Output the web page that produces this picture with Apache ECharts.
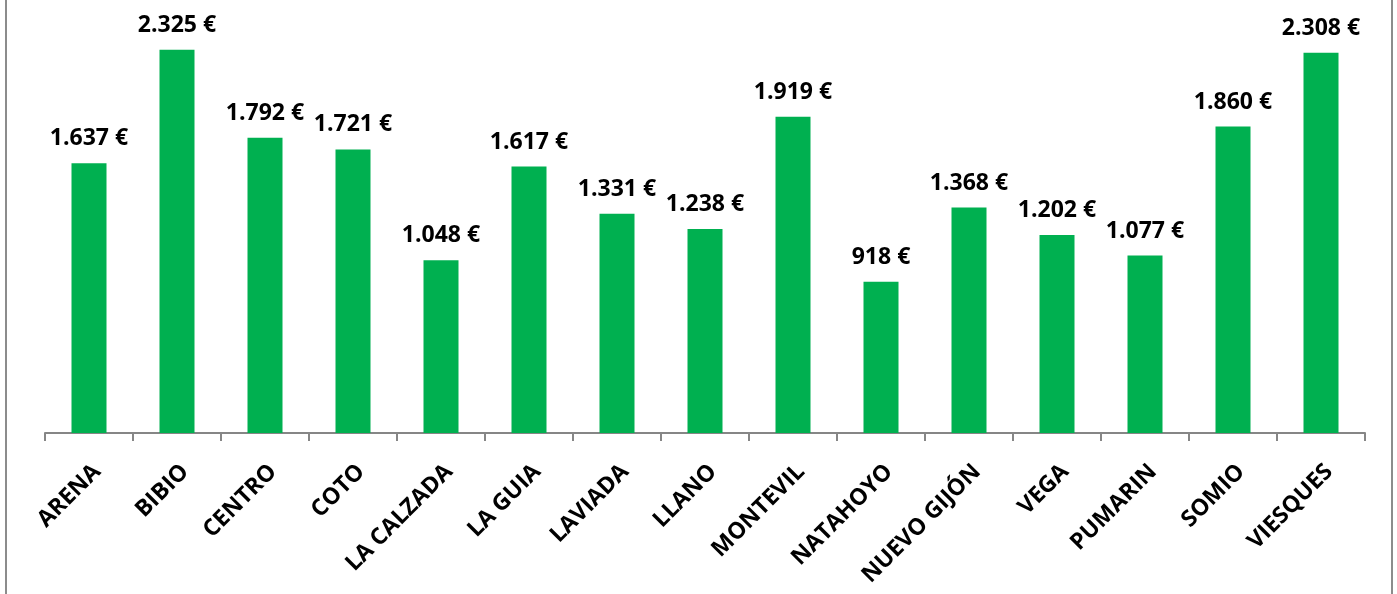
<!DOCTYPE html>
<html>
<head>
<meta charset="utf-8">
<script src="https://cdn.jsdelivr.net/npm/echarts@6/dist/echarts.min.js"></script>
<style>
  html, body { margin: 0; padding: 0; background: #fff; }
  #chart { width: 1397px; height: 594px; }
</style>
</head>
<body>
<div id="chart"></div>
<script>
// barrios de Gijón
const barrios = ['ARENA', 'BIBIO', 'CENTRO', 'COTO', 'LA CALZADA', 'LA GUIA', 'LAVIADA', 'LLANO',
  'MONTEVIL', 'NATAHOYO', 'NUEVO GIJÓN', 'VEGA', 'PUMARIN', 'SOMIO', 'VIESQUES'];
const importes = [1637, 2325, 1792, 1721, 1048, 1617, 1331, 1238, 1919, 918, 1368, 1202, 1077, 1860, 2308];

const FONT = '"Open Sans", "DejaVu Sans", sans-serif';

function euros(v) {
  return String(v).replace(/\B(?=(\d{3})+(?!\d))/g, '.') + ' €';
}

const chart = echarts.init(document.getElementById('chart'));
chart.setOption({
  animation: false,
  backgroundColor: '#fff',
  grid: { left: 45, right: 32, top: 21, bottom: 161 },
  xAxis: {
    type: 'category',
    data: barrios,
    axisLine: { lineStyle: { color: '#868686', width: 2 } },
    axisTick: { show: true, alignWithLabel: false, length: 8, lineStyle: { color: '#868686', width: 2 } },
    axisLabel: {
      rotate: 45,
      margin: 27,
      align: 'right',
      verticalAlign: 'top',
      color: '#000',
      fontFamily: FONT,
      fontWeight: 'bold',
      fontSize: 23,
      interval: 0
    }
  },
  yAxis: {
    type: 'value',
    min: 0,
    max: 2500,
    show: false,
    splitLine: { show: false }
  },
  series: [{
    type: 'bar',
    data: importes,
    barWidth: 35,
    itemStyle: { color: '#00B050' },
    label: {
      show: true,
      position: 'top',
      distance: 13,
      color: '#000',
      fontFamily: FONT,
      fontWeight: 'bold',
      fontSize: 23,
      formatter: p => euros(p.value)
    }
  }],
  graphic: [
    { type: 'line', shape: { x1: 6, y1: 0, x2: 6, y2: 594 }, style: { stroke: '#8c8c8c', lineWidth: 2 } },
    { type: 'line', shape: { x1: 1392, y1: 0, x2: 1392, y2: 594 }, style: { stroke: '#8c8c8c', lineWidth: 2 } }
  ]
});
</script>
</body>
</html>
